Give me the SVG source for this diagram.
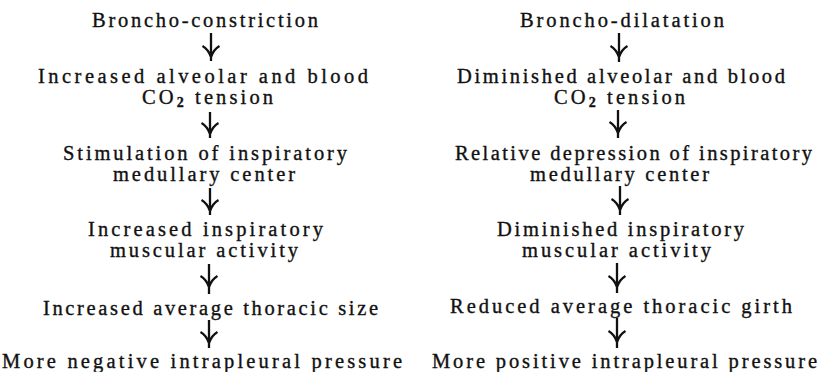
<svg xmlns="http://www.w3.org/2000/svg" width="825" height="372" viewBox="0 0 825 372">
<style>
text{font-family:"Liberation Serif","Times New Roman",serif;font-size:20.5px;fill:#111;stroke:#111;stroke-width:0.35;}
.sub{font-size:14px;font-weight:bold;}
.arr{fill:none;stroke:#111;stroke-width:2.3;stroke-linecap:butt;}
</style>
<rect width="825" height="372" fill="#fff"/>
<g id="left">
<g id="n1"><text x="92" y="27" textLength="226" lengthAdjust="spacing">Broncho-constriction</text></g>
<g id="n2"><text x="38" y="83" textLength="330" lengthAdjust="spacing">Increased alveolar and blood</text><text x="142" y="104" textLength="131" lengthAdjust="spacing">CO<tspan class="sub" dy="3">2</tspan><tspan dy="-3"> tension</tspan></text></g>
<g id="n3"><text x="63" y="160" textLength="284" lengthAdjust="spacing">Stimulation of inspiratory</text><text x="113" y="181" textLength="182" lengthAdjust="spacing">medullary center</text></g>
<g id="n4"><text x="88" y="236" textLength="235" lengthAdjust="spacing">Increased inspiratory</text><text x="110" y="257" textLength="188" lengthAdjust="spacing">muscular activity</text></g>
<g id="n5"><text x="43" y="315" textLength="335" lengthAdjust="spacing">Increased average thoracic size</text></g>
<g id="n6"><text x="2" y="368" textLength="400" lengthAdjust="spacing">More negative intrapleural pressure</text></g>
</g>
<g id="right">
<g id="m1"><text x="520" y="27" textLength="204" lengthAdjust="spacing">Broncho-dilatation</text></g>
<g id="m2"><text x="457" y="83" textLength="328" lengthAdjust="spacing">Diminished alveolar and blood</text><text x="554" y="104" textLength="131" lengthAdjust="spacing">CO<tspan class="sub" dy="3">2</tspan><tspan dy="-3"> tension</tspan></text></g>
<g id="m3"><text x="455" y="160" textLength="357" lengthAdjust="spacing">Relative depression of inspiratory</text><text x="530" y="181" textLength="179" lengthAdjust="spacing">medullary center</text></g>
<g id="m4"><text x="497" y="236" textLength="247" lengthAdjust="spacing">Diminished inspiratory</text><text x="522" y="257" textLength="189" lengthAdjust="spacing">muscular activity</text></g>
<g id="m5"><text x="450" y="313" textLength="342" lengthAdjust="spacing">Reduced average thoracic girth</text></g>
<g id="m6"><text x="432" y="368" textLength="385" lengthAdjust="spacing">More positive intrapleural pressure</text></g>
</g>
<g id="connectors" class="arr">
<path d="M211,33V61M202.5,46Q208,49 211,57Q214,49 219.5,46"/>
<path d="M210,112V138M201.5,123Q207,126 210,134Q213,126 218.5,123"/>
<path d="M210,188V215M201.5,200Q207,203 210,211Q213,203 218.5,200"/>
<path d="M209,264V294M200.5,276Q206,279 209,287Q212,279 217.5,276"/>
<path d="M209,320V348M200.5,332Q206,335 209,343Q212,335 217.5,332"/>
<path d="M619,33V62M610.5,46Q616,49 619,57Q622,49 627.5,46"/>
<path d="M618,110V138M609.5,122Q615,125 618,133Q621,125 626.5,122"/>
<path d="M620,186V215M611.5,199Q617,202 620,210Q623,202 628.5,199"/>
<path d="M617,263V293M608.5,276Q614,279 617,287Q620,279 625.5,276"/>
<path d="M617,318V348M608.5,331Q614,334 617,342Q620,334 625.5,331"/>
</g>
</svg>
